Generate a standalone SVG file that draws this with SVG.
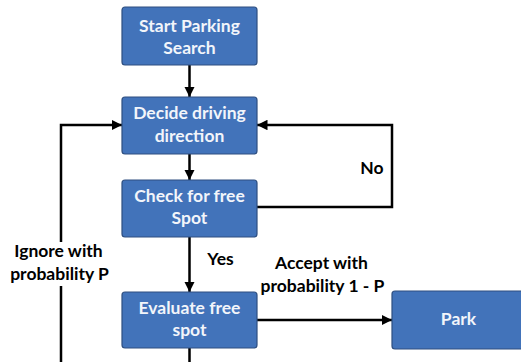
<svg xmlns="http://www.w3.org/2000/svg" width="521" height="362" viewBox="0 0 521 362">
<defs>
<marker id="ah" viewBox="0 0 10 10" refX="10" refY="5" markerWidth="4.2" markerHeight="4.2" orient="auto" markerUnits="strokeWidth">
<path d="M0,0 L10,5 L0,10 z" fill="#000"/>
</marker>
<style>
.box{fill:#4273BA;stroke:#2E4F80;stroke-width:1.2}
.bt{font-family:Lato,"Liberation Sans",sans-serif;font-weight:bold;font-size:17.5px;fill:#F2F5FA;text-anchor:middle}
.lb{font-family:Lato,"Liberation Sans",sans-serif;font-weight:bold;font-size:17.5px;fill:#000;text-anchor:middle}
.c{fill:none;stroke:#000;stroke-width:2.5}
</style>
</defs>
<rect width="521" height="362" fill="#fff"/>
<g id="connectors">
<path class="c" d="M189.5,65 V97" marker-end="url(#ah)"/>
<path class="c" d="M189.5,154 V180" marker-end="url(#ah)"/>
<path class="c" d="M257,207 H392 V125 H257" marker-end="url(#ah)"/>
<path class="c" d="M189.5,237 V292" marker-end="url(#ah)"/>
<path class="c" d="M257,320 H392" marker-end="url(#ah)"/>
<path class="c" d="M189.5,348 V363.2 H61 V286"/>
<path class="c" d="M61,242 V125 H122" marker-end="url(#ah)"/>
<text class="lb" x="372" y="174">No</text>
<text class="lb" x="220.5" y="265">Yes</text>
<text class="lb" x="58.5" y="257">Ignore with</text>
<text class="lb" x="59.5" y="280">probability P</text>
<text class="lb" x="321.5" y="269">Accept with</text>
<text class="lb" x="322.5" y="292">probability 1 - P</text>
</g>
<g id="start">
<rect class="box" x="122" y="7" width="135" height="58" rx="3"/>
<text class="bt" x="189.5" y="32">Start Parking</text>
<text class="bt" x="189.5" y="54">Search</text>
</g>
<g id="decide">
<rect class="box" x="122" y="97" width="135" height="57" rx="3"/>
<text class="bt" x="189.5" y="119">Decide driving</text>
<text class="bt" x="189.5" y="142">direction</text>
</g>
<g id="check">
<rect class="box" x="122" y="180" width="135" height="57" rx="3"/>
<text class="bt" x="189.5" y="202">Check for free</text>
<text class="bt" x="189.5" y="224">Spot</text>
</g>
<g id="evaluate">
<rect class="box" x="122" y="292" width="135" height="56" rx="3"/>
<text class="bt" x="189.5" y="314">Evaluate free</text>
<text class="bt" x="189.5" y="336">spot</text>
</g>
<g id="park">
<rect class="box" x="392" y="291" width="135" height="58" rx="3"/>
<text class="bt" x="458.5" y="325">Park</text>
</g>
</svg>
